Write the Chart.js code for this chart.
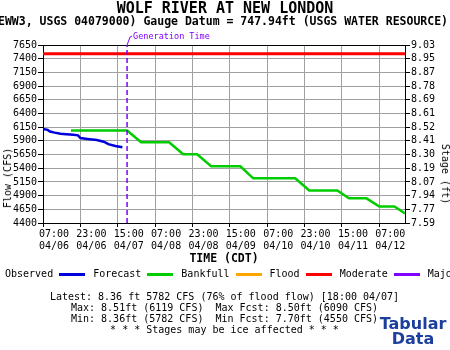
<!DOCTYPE html>
<html>
<head>
<meta charset="utf-8">
<script src="https://cdn.jsdelivr.net/npm/chart.js@4"></script>
<style>
  body { margin: 0; background: #fff; }
  #wrap { position: relative; width: 450px; height: 350px; overflow: hidden; font-family: "DejaVu Sans Mono", monospace; color: #000; }
  #wrap canvas { position: absolute; left: 0; top: 0; }
  .txt { position: absolute; white-space: pre; line-height: 1; }
  .mid { transform: translateX(-50%); }
  .legend { position: absolute; left: 5px; top: 268px; white-space: nowrap; font-size: 10px; line-height: 12px; }
  .legend span.sw { display: inline-block; width: 26px; height: 3px; margin: 0 8px 0 6px; vertical-align: middle; }
  .rot { position: absolute; white-space: pre; font-size: 10px; line-height: 1; }
  #tab { position: absolute; left: 413px; top: 316px; transform: translateX(-50%); text-align: center; font-family: "DejaVu Sans", sans-serif; font-weight: bold; font-size: 16px; line-height: 15px; color: #1c3f9e; }
</style>
</head>
<body>
<div id="wrap">
  <canvas id="grafico" width="450" height="350"></canvas>
  <div class="txt mid" style="left:225px; top:1px; font-size:15px; font-weight:bold;">WOLF RIVER AT NEW LONDON</div>
  <div class="txt" style="left:-2px; top:16px; font-size:11.5px; font-weight:bold;">EWW3, USGS 04079000) Gauge Datum = 747.94ft (USGS WATER RESOURCE)</div>
  <div class="txt mid" style="left:224px; top:253px; font-size:11.5px; font-weight:bold;">TIME (CDT)</div>
  <div class="rot" style="left:7.5px; top:177.5px; transform: translate(-50%,-50%) rotate(-90deg);">Flow (CFS)</div>
  <div class="rot" style="left:444.5px; top:174px; transform: translate(-50%,-50%) rotate(90deg);">Stage (ft)</div>
  <div class="legend">Observed<span class="sw" style="background:#0000dd"></span>Forecast<span class="sw" style="background:#00cc00"></span>Bankfull<span class="sw" style="background:#ffa500"></span>Flood<span class="sw" style="background:#ff0000"></span>Moderate<span class="sw" style="background:#7f00ff"></span>Major</div>
  <div class="txt mid" style="left:224.5px; top:291px; font-size:10px; line-height:11px; text-align:center;">Latest: 8.36 ft 5782 CFS (76% of flood flow) [18:00 04/07]
Max: 8.51ft (6119 CFS)  Max Fcst: 8.50ft (6090 CFS)
Min: 8.36ft (5782 CFS)  Min Fcst: 7.70ft (4550 CFS)
* * * Stages may be ice affected * * *</div>
  <div id="tab">Tabular<br>Data</div>
</div>
<script>
// --- DATOS (horas desde 07:00 04/06) ---
const obsHoras = [0, 2, 3, 5, 7.5, 10, 13, 15, 16, 19, 23, 26, 28, 31, 34];
const obsCaudal = [6119, 6100, 6070, 6050, 6030, 6020, 6010, 6000, 5950, 5935, 5915, 5885, 5840, 5805, 5782];

const fcstHoras = [12, 36, 42, 54, 60, 66, 72, 84.5, 90, 108, 114, 126, 131, 138.5, 144, 150.5, 155];
const fcstCaudal = [6090, 6090, 5875, 5875, 5655, 5655, 5435, 5435, 5215, 5215, 4995, 4995, 4850, 4850, 4700, 4700, 4575];

const caudalCrecida = 7490;
const horaGeneracion = 36;
const horaMin = 0;
const horaMax = 155;

const ejeHoras = [0, 16, 32, 48, 64, 80, 96, 112, 128, 144];
const ejeHorarios = ['07:00', '23:00', '15:00', '07:00', '23:00', '15:00', '07:00', '23:00', '15:00', '07:00'];
const ejeFechas = ['04/06', '04/06', '04/07', '04/08', '04/08', '04/09', '04/10', '04/10', '04/11', '04/12'];

const caudalMin = 4400;
const caudalMax = 7650;
const pasoCaudal = 250;
// Etiquetas de altura (ft), de abajo hacia arriba
const etiquetasAltura = ['7.59', '7.77', '7.94', '8.07', '8.19', '8.30', '8.41', '8.52', '8.61', '8.69', '8.78', '8.87', '8.95', '9.03'];

const fuenteEje = { family: 'DejaVu Sans Mono', size: 10 };

// Línea y texto de "Generation Time"
const pluginGeneracion = {
    id: 'generacion',
    afterDatasetsDraw(chart) {
        const { ctx, chartArea, scales } = chart;
        const x = scales.x.getPixelForValue(horaGeneracion);
        ctx.save();
        ctx.strokeStyle = '#7f00ff';
        ctx.lineWidth = 1;
        ctx.beginPath();
        ctx.moveTo(x, chartArea.top);
        ctx.lineTo(x + 3, chartArea.top - 8);
        ctx.lineTo(x + 5, chartArea.top - 9);
        ctx.stroke();
        ctx.fillStyle = '#7f00ff';
        ctx.font = '8.5px "DejaVu Sans Mono"';
        ctx.textBaseline = 'alphabetic';
        ctx.fillText('Generation Time', x + 6, chartArea.top - 6);
        ctx.restore();
    }
};

new Chart(document.getElementById('grafico'), {
    type: 'line',
    data: {
        datasets: [
            {
                label: 'Generation',
                data: [{ x: horaGeneracion, y: caudalMin }, { x: horaGeneracion, y: caudalMax }],
                borderColor: '#7f00ff',
                borderWidth: 1.5,
                borderDash: [5, 3],
                pointRadius: 0,
                order: 0
            },
            {
                label: 'Observed',
                data: obsHoras.map((h, i) => ({ x: h, y: obsCaudal[i] })),
                borderColor: '#0000dd',
                borderWidth: 2.5,
                pointRadius: 0,
                tension: 0,
                order: 1
            },
            {
                label: 'Forecast',
                data: fcstHoras.map((h, i) => ({ x: h, y: fcstCaudal[i] })),
                borderColor: '#00cc00',
                borderWidth: 2.5,
                pointRadius: 0,
                tension: 0,
                order: 2
            },
            {
                label: 'Flood',
                data: [{ x: horaMin, y: caudalCrecida }, { x: horaMax, y: caudalCrecida }],
                borderColor: '#ff0000',
                borderWidth: 3,
                pointRadius: 0,
                order: 3
            }
        ]
    },
    options: {
        responsive: false,
        animation: false,
        devicePixelRatio: 1,
        layout: { padding: { top: 45, left: 0, right: 0, bottom: 0 } },
        plugins: { legend: { display: false }, tooltip: { enabled: false }, title: { display: false } },
        scales: {
            x: {
                type: 'linear',
                position: 'bottom',
                min: horaMin,
                max: horaMax,
                afterBuildTicks: (s) => { s.ticks = ejeHoras.map(v => ({ value: v })); },
                afterFit: (s) => { s.height = 127; },
                ticks: {
                    autoSkip: false,
                    maxRotation: 0,
                    labelOffset: 11,
                    padding: 1,
                    color: '#000',
                    font: fuenteEje,
                    callback: (v) => {
                        const i = ejeHoras.indexOf(v);
                        return i < 0 ? '' : [ejeHorarios[i], ejeFechas[i]];
                    }
                },
                grid: { color: '#a0a0a0', tickLength: 4, tickColor: '#000', lineWidth: 1 },
                border: { color: '#000', width: 1 }
            },
            y: {
                position: 'left',
                min: caudalMin,
                max: caudalMax,
                afterFit: (s) => { s.width = 43; },
                ticks: {
                    stepSize: pasoCaudal,
                    autoSkip: false,
                    padding: 1,
                    color: '#000',
                    font: fuenteEje,
                    callback: (v) => String(v)
                },
                grid: {
                    color: (c) => c.tick && c.tick.value === caudalMax ? '#000' : '#a0a0a0',
                    tickLength: 5,
                    tickColor: '#000'
                },
                border: { color: '#000', width: 1 }
            },
            y2: {
                position: 'right',
                min: caudalMin,
                max: caudalMax,
                afterFit: (s) => { s.width = 45; },
                ticks: {
                    stepSize: pasoCaudal,
                    autoSkip: false,
                    padding: 1,
                    color: '#000',
                    font: fuenteEje,
                    callback: (v, i) => etiquetasAltura[i]
                },
                grid: { drawOnChartArea: false, tickLength: 5, tickColor: '#000' },
                border: { color: '#000', width: 1 }
            }
        }
    },
    plugins: [pluginGeneracion]
});
</script>
</body>
</html>
